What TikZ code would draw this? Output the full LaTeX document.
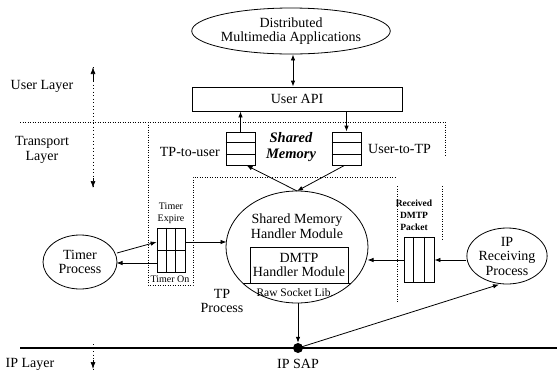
\documentclass[tikz,border=0pt]{standalone}
\usepackage{fontspec}
\setmainfont{Liberation Serif}
\usetikzlibrary{shapes.geometric,arrows.meta,calc}

\tikzset{
  base/.style={font=\fontsize{14}{14.5}\selectfont, align=center, inner sep=0pt},
  small/.style={font=\fontsize{10}{11.5}\selectfont, align=center, inner sep=0pt},
  oval/.style={base, draw, ellipse, line width=0.8pt},
  box/.style={base, draw, rectangle, line width=0.8pt},
  queue/.style={draw, rectangle, line width=0.8pt, inner sep=0pt},
  arr/.style={line width=0.8pt, -{Latex[length=6pt,width=4.5pt]}},
  dbl/.style={line width=0.8pt, {Latex[length=6pt,width=4.5pt]}-{Latex[length=6pt,width=4.5pt]}},
  bound/.style={line width=0.7pt, dash pattern=on 1pt off 1.5pt},
  layerarrow/.style={line width=0.7pt, dash pattern=on 1pt off 2.5pt},
  tip/.style={-{Latex[length=7pt,width=5pt]}},
}

\begin{document}
\begin{tikzpicture}[x=1pt,y=-1pt]
\useasboundingbox (0,0) rectangle (557,373);

% layer labels and layer arrows
\node[base] (ulayer) at (42,86) {User Layer};
\node[base] (tlayer) at (42,150) {Transport\\Layer};
\node[base] (iplayer) at (30,364) {IP Layer};
\coordinate (la1) at (93,102);
\coordinate (la0) at (93,67);
\coordinate (lb1) at (93,150);
\coordinate (lb0) at (93,188);
\coordinate (lc1) at (93,344);
\coordinate (lc0) at (93,369);
\draw[layerarrow] (la0) -- (lb0);
\draw[tip, line width=0.7pt] (la1) ++(0,-20) -- (la0);
\draw[tip, line width=0.7pt] (lb1) ++(0,28) -- (lb0);
\draw[layerarrow] (lc1) -- (lc0);
\draw[tip, line width=0.7pt] (93,360) -- (lc0);

% transport layer boundary and TP region
\coordinate (b0) at (20,122);
\coordinate (b1) at (445,122);
\coordinate (b2) at (445,156);
\draw[bound] (b0) -- (b1) -- (b2);
\draw[bound] (148,122) -- (148,285) -- (193,285) -- (193,177) -- (397,177);
\draw[bound] (397,186) -- (397,302);
\draw[bound] (442,186) -- (442,240);

% user side
\node[oval, minimum width=162pt, minimum height=46pt] (app) at (291,31) {Distributed\\Multimedia Applications};
\node[box, minimum width=210pt, minimum height=24pt] (api) at (297,99) {User API};

% shared memory queues
\node[queue, minimum width=29pt, minimum height=33pt] (q1) at (240.5,148.5) {};
\node[queue, minimum width=29pt, minimum height=33pt] (q2) at (346.5,148.5) {};
\foreach \q in {q1,q2}{
  \draw[line width=0.8pt] ($(\q.north west)!1/3!(\q.south west)$) -- ($(\q.north east)!1/3!(\q.south east)$);
  \draw[line width=0.8pt] ($(\q.north west)!2/3!(\q.south west)$) -- ($(\q.north east)!2/3!(\q.south east)$);
}
\node[base, anchor=east] (tpu) at (220,152) {TP-to-user};
\node[base, anchor=west] (utp) at (368,149) {User-to-TP};
\node[base, font=\fontsize{14.5}{16}\selectfont\bfseries\itshape] (shmtxt) at (291,147) {Shared\\Memory};

% shared memory handler
\node[oval, minimum width=142pt, minimum height=112pt] (shm) at (297,247) {};
\node[base] (shmlbl) at (297,226) {Shared Memory\\Handler Module};
\node[box, minimum width=98pt, minimum height=36pt] (dmtp) at (299,265) {DMTP\\Handler Module};
\draw[line width=0.8pt] (242.6,283) -- (351.4,283);
\node[base, font=\fontsize{11.5}{12}\selectfont] (raw) at (295,293) {Raw Socket Lib.};
\node[base] (tpp) at (222,301) {TP\\Process};

% timer
\node[oval, minimum width=74pt, minimum height=54pt] (timer) at (80,262) {Timer\\Process};
\node[queue, minimum width=28pt, minimum height=44pt] (tq) at (171,250) {};
\draw[line width=0.8pt] ($(tq.north west)!1/3!(tq.north east)$) -- ($(tq.south west)!1/3!(tq.south east)$);
\draw[line width=0.8pt] ($(tq.north west)!2/3!(tq.north east)$) -- ($(tq.south west)!2/3!(tq.south east)$);
\draw[line width=0.8pt] (tq.west) -- (tq.east);
\node[small] (texp) at (171,213) {Timer\\Expire};
\node[small] (ton) at (170,279) {Timer On};

% received packet queue and IP receiver
\node[queue, minimum width=30pt, minimum height=45pt] (rq) at (419,259.5) {};
\draw[line width=0.8pt] ($(rq.north west)!1/3!(rq.north east)$) -- ($(rq.south west)!1/3!(rq.south east)$);
\draw[line width=0.8pt] ($(rq.north west)!2/3!(rq.north east)$) -- ($(rq.south west)!2/3!(rq.south east)$);
\node[small, font=\fontsize{9.5}{12}\selectfont\bfseries] (rlbl) at (414,215) {Received\\DMTP\\Packet};
\node[oval, minimum width=72pt, minimum height=56pt] (iprx) at (507,256) {IP\\Receiving\\Process};

% IP layer line and service access point
\coordinate (ipl0) at (20,348);
\coordinate (ipl1) at (557,348);
\draw[line width=1.6pt] (ipl0) -- (ipl1);
\node[circle, fill, minimum size=10pt, inner sep=0pt] (sap) at (298,348) {};
\node[base] (saplbl) at (298,364) {IP SAP};

% connectors
\draw[dbl] (app.south -| 293,0) -- (api.north -| 293,0);
\draw[arr] (q1.north) -- (q1.north |- api.south);
\draw[arr] (q2.north |- api.south) -- (q2.north);
\coordinate (shmtop) at (297,191);
\draw[arr] (shmtop) -- ($(q1.south)+(6,0)$);
\draw[arr] ($(q2.south)+(-2,0)$) -- (shmtop);
\draw[arr] (tq.east |- 0,242) -- (226.5,242);
\draw[arr] (117,253) -- (tq.west |- 0,242);
\draw[arr] (tq.west |- 0,263) -- (116.5,263);
\draw[arr] (rq.west |- 0,260) -- (367.5,260);
\draw[arr] (iprx.west |- 0,260) -- (rq.east |- 0,260);
\draw[arr] (shm.south -| 298,0) -- (sap.north);
\draw[arr] (sap.center) -- (499,284.5);
\end{tikzpicture}
\end{document}
